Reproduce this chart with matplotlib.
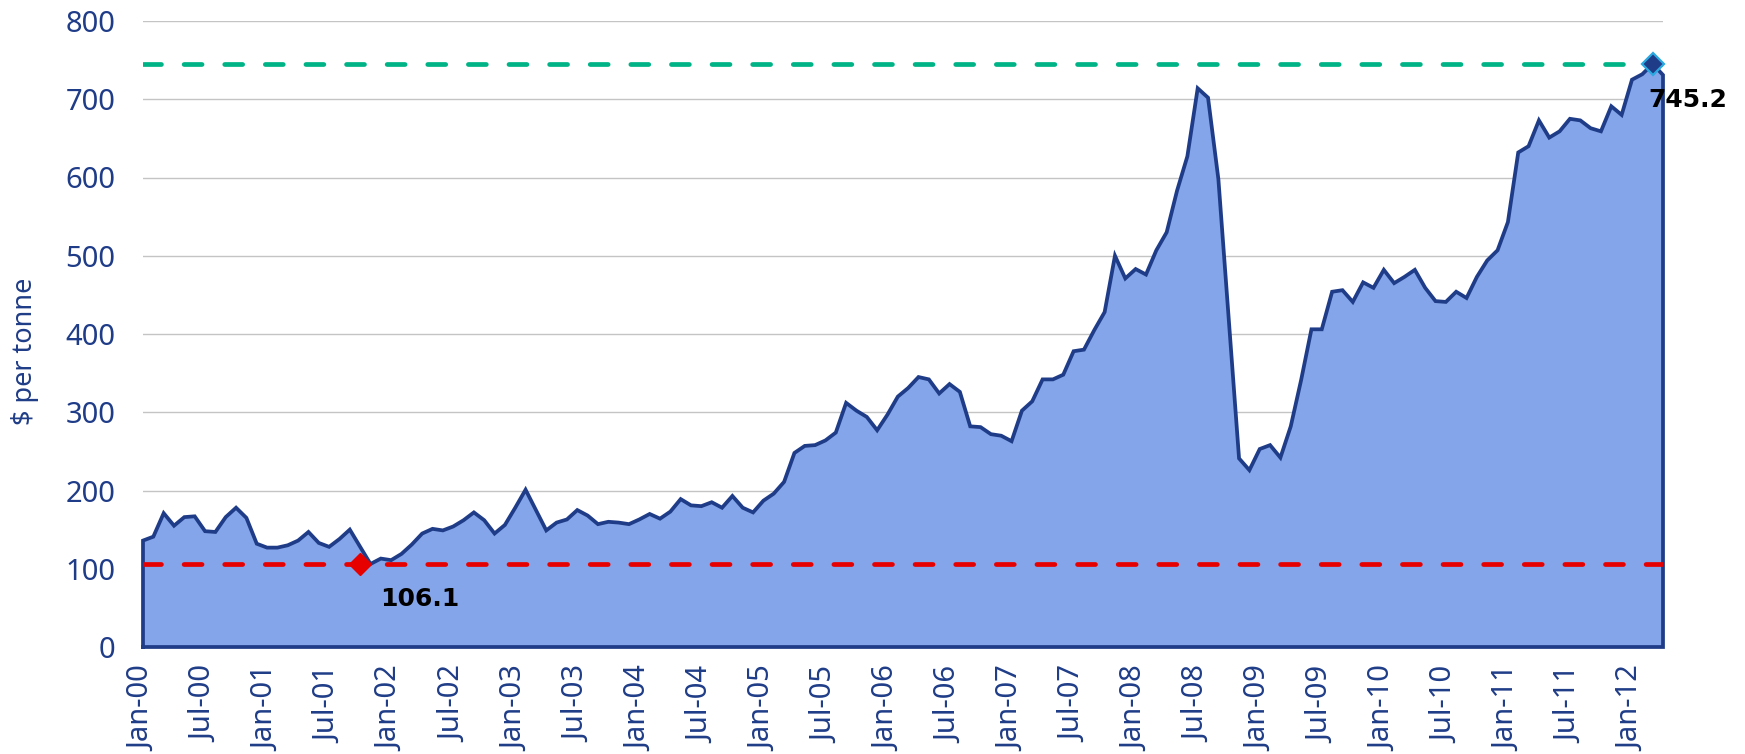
import matplotlib
matplotlib.use("Agg")
import matplotlib.pyplot as plt
import numpy as np

# ---- data (monthly, Jan-00 .. Apr-12), $ per tonne ----
months = [f"{m}-{y:02d}" for y in range(0, 13)
          for m in ["Jan", "Feb", "Mar", "Apr", "May", "Jun",
                    "Jul", "Aug", "Sep", "Oct", "Nov", "Dec"]][:148]
prices = [
    136, 141, 171, 155, 166, 167, 148, 147, 166, 178, 165, 132,   # 2000
    127, 127, 130, 136, 147, 133, 128, 138, 150, 128, 106.1, 113, # 2001
    111, 119, 131, 145, 151, 149, 154, 162, 172, 162, 145, 156,   # 2002
    178, 201, 175, 149, 159, 163, 175, 168, 157, 160, 159, 157,   # 2003
    163, 170, 164, 173, 189, 181, 180, 185, 178, 193, 178, 172,   # 2004
    187, 196, 211, 248, 257, 258, 264, 274, 312, 302, 294, 277,   # 2005
    297, 320, 331, 345, 342, 324, 336, 326, 282, 281, 272, 270,   # 2006
    263, 302, 314, 342, 342, 348, 378, 380, 405, 428, 500, 471,   # 2007
    483, 476, 507, 530, 583, 627, 714, 702, 598, 420, 241, 226,   # 2008
    253, 258, 242, 282, 341, 406, 406, 454, 456, 441, 466, 459,   # 2009
    482, 465, 473, 482, 459, 442, 441, 454, 446, 473, 494, 507,   # 2010
    543, 632, 640, 673, 651, 659, 675, 673, 663, 659, 691, 680,   # 2011
    725, 732, 745.2, 731,                                          # 2012
]
min_value = 106.1
min_marker_month = "Oct-01"
max_value = 745.2
max_marker_month = "Mar-12"
tick_labels = months[::6]
y_ticks = [0, 100, 200, 300, 400, 500, 600, 700, 800]

# ---- styles ----
NAVY = "#1F3C88"
FILL = "#84A5E9"
RED = "#E60000"
GREEN = "#00B386"
GRID = "#C4C4C4"
FONT = "Noto Sans"

W, H = 1745, 754
fig = plt.figure(figsize=(W / 100, H / 100), dpi=100)
ax = fig.add_axes([143 / W, 1 - 647 / H, (1663 - 143) / W, (647 - 21) / H])

x = np.arange(len(prices))
vals = np.array(prices, dtype=float)

# gridlines
ax.set_axisbelow(True)
ax.yaxis.grid(True, color=GRID, linewidth=1.0)
ax.xaxis.grid(False)

# area with outline
ax.fill_between(x, 0, vals, facecolor=FILL, edgecolor="none", zorder=2)
outline_x = np.concatenate([[x[0]], x, [x[-1]], [x[0]]])
outline_y = np.concatenate([[0], vals, [0], [0]])
ax.plot(outline_x, outline_y, color=NAVY, linewidth=2.7, zorder=3,
        solid_joinstyle="miter", clip_on=False)

# reference lines
ax.plot([x[0], x[-1]], [min_value, min_value], color=RED, linewidth=3.4,
        dashes=(3.8, 4.8), dash_capstyle="round", zorder=4)
ax.plot([x[0], x[-1]], [max_value, max_value], color=GREEN, linewidth=3.4,
        dashes=(3.8, 4.8), dash_capstyle="round", zorder=4)

# markers
i_min = months.index(min_marker_month)
i_max = months.index(max_marker_month)
ax.plot([i_min], [min_value], marker="D", markersize=11.5, color=RED,
        markeredgecolor=RED, zorder=5, clip_on=False)
ax.plot([i_max], [max_value], marker="D", markersize=11, color=NAVY,
        markeredgecolor="#2AA8E0", markeredgewidth=1.6, zorder=5, clip_on=False)

ax.annotate(f"{min_value:.1f}", (i_min, min_value), xytext=(20, -35),
            textcoords="offset pixels", ha="left", va="center",
            fontsize=18, fontweight="bold", color="black",
            family="DejaVu Sans", zorder=6)
ax.annotate(f"{max_value:.1f}", (i_max, max_value), xytext=(-4, -36),
            textcoords="offset pixels", ha="left", va="center",
            fontsize=18, fontweight="bold", color="black",
            family="DejaVu Sans", zorder=6, annotation_clip=False)

# axes
ax.set_xlim(x[0], x[-1])
ax.set_ylim(y_ticks[0], y_ticks[-1])
ax.set_yticks(y_ticks)
ax.set_yticklabels([str(t) for t in y_ticks], fontsize=21, color=NAVY,
                   family=FONT)
ax.set_xticks(x[::6])
ax.set_xticklabels(tick_labels, rotation=90, fontsize=21, color=NAVY,
                   family=FONT, va="top", ha="center")
ax.tick_params(axis="y", length=0, pad=20)
ax.tick_params(axis="x", length=0, pad=14)
for s in ax.spines.values():
    s.set_visible(False)

fig.text(25 / W, 1 - 351 / H, "$ per tonne", rotation=90, ha="center",
         va="center", fontsize=19.5, color=NAVY, family=FONT)

fig.savefig("out.png", dpi=100)
